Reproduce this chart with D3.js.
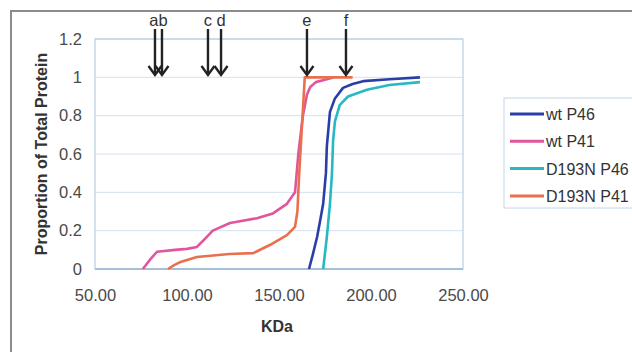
<!DOCTYPE html>
<html>
<head>
<meta charset="utf-8">
<script src="https://cdn.jsdelivr.net/npm/d3@7"></script>
<style>
  body { margin: 0; background: #fff; }
  svg { font-family: "Liberation Sans", Arial, sans-serif; }
</style>
</head>
<body>
<svg id="chart" width="632" height="352"></svg>
<script>
// values (KDa, proportion)
const seriesNames = ['wt P46', 'wt P41', 'D193N P46', 'D193N P41'];
const seriesColors = ['#2a3fa6', '#e0559c', '#27b9c2', '#e8704f'];
const wtP46 = [[166.3,0],[168.5,0.08],[170.7,0.167],[172.5,0.26],[174,0.34],[175.5,0.5],[176,0.64],[177.7,0.82],[180.4,0.89],[184.8,0.945],[190,0.965],[195.7,0.98],[210,0.99],[226.6,1.0]];
const wtP41 = [[76,0],[80,0.05],[83.7,0.09],[93.5,0.1],[100,0.105],[105.4,0.115],[110,0.16],[114,0.2],[123.4,0.24],[138,0.265],[146.7,0.29],[154.3,0.34],[158.7,0.4],[160.5,0.6],[163,0.8],[165.2,0.91],[167,0.95],[170,0.975],[176,0.99],[180,1.0]];
const d193nP46 = [[174,0],[176,0.167],[177.7,0.34],[178.8,0.5],[179.4,0.67],[180.4,0.77],[183,0.855],[187.5,0.9],[197.8,0.935],[210,0.96],[226.6,0.975]];
const d193nP41 = [[89.7,0],[93,0.02],[96,0.035],[105.4,0.063],[123,0.078],[136,0.083],[145,0.125],[154.3,0.177],[158.7,0.22],[160,0.3],[161,0.5],[162.5,0.75],[164,1.0],[190,1.0]];
const seriesData = [wtP46, wtP41, d193nP46, d193nP41];

const xTicks = [50, 100, 150, 200, 250];
const yTicks = [0, 0.2, 0.4, 0.6, 0.8, 1, 1.2];

const arrowLabels = ['a', 'b', 'c', 'd', 'e', 'f'];
const arrowKDa = [82.6, 86.4, 111.4, 118.5, 165.2, 186.4];

const svg = d3.select('#chart');
const plotLeft = 95, plotRight = 463, plotTop = 39, plotBottom = 269;

const x = d3.scaleLinear().domain([50, 250]).range([plotLeft, plotRight]);
const y = d3.scaleLinear().domain([0, 1.2]).range([plotBottom, plotTop]);

// outer frame
svg.append('path').attr('d', 'M11,640 L11,11 L640,11').attr('fill', 'none').attr('stroke', '#8c8c8c').attr('stroke-width', 2);

// grid
svg.append('g').selectAll('line').data(yTicks).enter().append('line')
  .attr('x1', plotLeft).attr('x2', plotRight).attr('y1', d => y(d)).attr('y2', d => y(d))
  .attr('stroke', '#d3e2f1').attr('stroke-width', 1);
svg.append('rect').attr('x', plotLeft).attr('y', plotTop).attr('width', plotRight - plotLeft).attr('height', plotBottom - plotTop)
  .attr('fill', 'none').attr('stroke', '#a9c6e0').attr('stroke-width', 1);
svg.append('line').attr('x1', plotLeft).attr('x2', plotRight).attr('y1', plotBottom).attr('y2', plotBottom)
  .attr('stroke', '#a3bfd9').attr('stroke-width', 2);

// axes
const yAxis = d3.axisLeft(y).tickValues(yTicks).tickSize(0).tickPadding(13).tickFormat(d => String(d));
const gy = svg.append('g').attr('transform', 'translate(' + plotLeft + ',0)').call(yAxis);
const xAxis = d3.axisBottom(x).tickValues(xTicks).tickSize(0).tickPadding(20).tickFormat(d => d.toFixed(2));
const gx = svg.append('g').attr('transform', 'translate(0,' + plotBottom + ')').call(xAxis);
[gx, gy].forEach(g => {
  g.select('.domain').remove();
  g.selectAll('text').attr('fill', '#4a4a4a').style('font-size', '16.5px');
});

svg.append('text').attr('x', 277).attr('y', 332).attr('text-anchor', 'middle')
  .style('font-size', '16px').style('font-weight', 'bold').attr('fill', '#333').text('KDa');
svg.append('text').attr('transform', 'translate(47,154) rotate(-90)').attr('text-anchor', 'middle')
  .style('font-size', '16px').style('font-weight', 'bold').attr('fill', '#333').text('Proportion of Total Protein');

// series
const line = d3.line().x(d => x(d[0])).y(d => y(d[1]));
seriesData.forEach((s, i) => {
  svg.append('path').attr('d', line(s)).attr('fill', 'none')
    .attr('stroke', seriesColors[i]).attr('stroke-width', 2.6).attr('stroke-linejoin', 'round');
});

// arrows
const ag = svg.append('g');
arrowKDa.forEach((k, i) => {
  const ax = x(k);
  ag.append('line').attr('x1', ax).attr('x2', ax).attr('y1', 29).attr('y2', 74)
    .attr('stroke', '#222').attr('stroke-width', 2.4);
  ag.append('path').attr('d', 'M' + (ax - 6.5) + ',66 L' + ax + ',75 L' + (ax + 6.5) + ',66')
    .attr('fill', 'none').attr('stroke', '#222').attr('stroke-width', 2.4);
  let anchor = 'middle', tx = ax;
  if (i < arrowKDa.length - 1 && x(arrowKDa[i + 1]) - ax < 10) { anchor = 'end'; tx = (ax + x(arrowKDa[i + 1])) / 2; }
  if (i > 0 && ax - x(arrowKDa[i - 1]) < 10) { anchor = 'start'; tx = (ax + x(arrowKDa[i - 1])) / 2; }
  ag.append('text').attr('x', tx).attr('y', 26).attr('text-anchor', anchor)
    .style('font-size', '16.5px').attr('fill', '#333').text(arrowLabels[i]);
});

// legend
const lg = svg.append('g');
lg.append('rect').attr('x', 504).attr('y', 98).attr('width', 150).attr('height', 110)
  .attr('fill', '#fff').attr('stroke', '#c4d6e8').attr('stroke-width', 1);
seriesNames.forEach((n, i) => {
  const ly = 114 + i * 27.3;
  lg.append('line').attr('x1', 510).attr('x2', 544).attr('y1', ly).attr('y2', ly)
    .attr('stroke', seriesColors[i]).attr('stroke-width', 3);
  lg.append('text').attr('x', 546).attr('y', ly + 6).style('font-size', '16px').attr('fill', '#333').text(n);
});
</script>
</body>
</html>
